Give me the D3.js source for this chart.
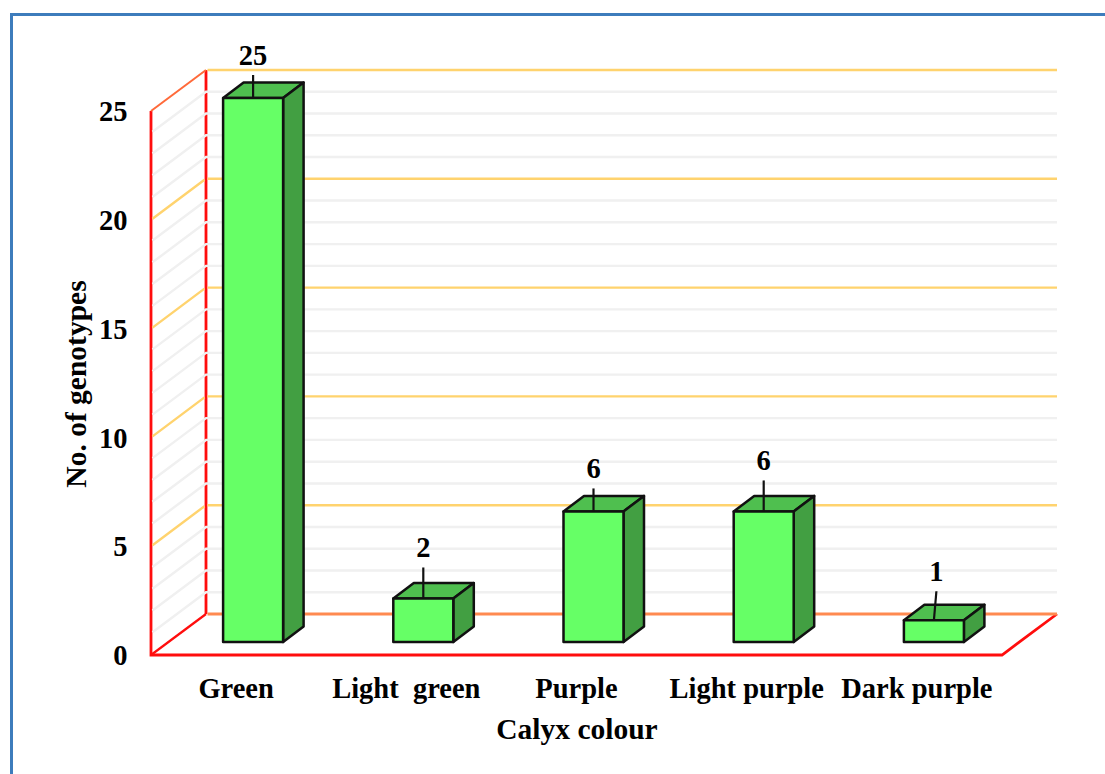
<!DOCTYPE html>
<html>
<head>
<meta charset="utf-8">
<script src="https://cdn.jsdelivr.net/npm/d3@7/dist/d3.min.js"></script>
<style>
html, body { margin: 0; padding: 0; background: #fff; overflow: hidden; }
svg { display: block; }
text { font-family: "Liberation Serif", serif; font-weight: bold; fill: #000; white-space: pre; }
</style>
</head>
<body>
<svg id="chart" width="1105" height="774"></svg>
<script>
// Calyx colour counts
const categories = ["Green", "Light  green", "Purple", "Light purple", "Dark purple"];
const genotypes = [25, 2, 6, 6, 1];
const yTicks = [0, 5, 10, 15, 20, 25];
const minorTicks = d3.range(0, 26);
const yLabel = "No. of genotypes";
const xLabel = "Calyx colour";

// Height of each value label's leader line above its bar, and its lean
const leaderLengths = [23, 31, 23, 31, 29];
const leaderLean = [0, 0, 0, 0, 2.5];

// Projection of the 3D box: floor depth offset of the back wall
const wallDepth = { dx: 55, dy: -41 };
const barDepth = { dx: 20.5, dy: -15.5 };

const svg = d3.select("#chart");

const x = d3.scaleBand().domain(categories).range([151, 1002]);
const y = d3.scaleLinear().domain([0, 25]).range([655, 111]);
const barBase = 642;
const barWidth = 60;
const barShift = 17;
const barHeight = v => y(0) - y(v);

const backY = v => y(v) + wallDepth.dy;
const xLeft = x.range()[0], xRight = x.range()[1];

// Outer frame
svg.append("path")
  .attr("d", "M11.5,774V14.5H1105")
  .attr("fill", "none").attr("stroke", "#3d7cbc").attr("stroke-width", 3);

// Left wall and floor outline
const red = "#ff0d0d";
svg.append("path")
  .attr("d", `M${xLeft},${backY(25) - wallDepth.dy}V${y(0)}H${xRight}L${xRight + wallDepth.dx},${backY(0)}`)
  .attr("fill", "none").attr("stroke", red).attr("stroke-width", 2.8);
svg.append("line")
  .attr("x1", xLeft + wallDepth.dx).attr("x2", xLeft + wallDepth.dx)
  .attr("y1", backY(25)).attr("y2", backY(0))
  .attr("stroke", red).attr("stroke-width", 2.8);
svg.append("line")
  .attr("x1", xLeft).attr("x2", xLeft + wallDepth.dx)
  .attr("y1", y(0)).attr("y2", backY(0))
  .attr("stroke", red).attr("stroke-width", 2.2);
svg.append("line")
  .attr("x1", xLeft).attr("x2", xLeft + wallDepth.dx)
  .attr("y1", y(25)).attr("y2", backY(25))
  .attr("stroke", "#ff6a3a").attr("stroke-width", 2);

// Minor gridlines across the side wall and back wall
const minor = svg.append("g").attr("fill", "none").attr("stroke", "#f0f0f0").attr("stroke-width", 2.4);
minor.selectAll("path")
  .data(minorTicks.filter(v => v % 5 !== 0))
  .join("path")
  .attr("d", v => `M${xLeft + 1.5},${y(v) - 1}L${xLeft + wallDepth.dx},${backY(v)}H${xRight + wallDepth.dx}`);

// Major gridlines, with the zero line running along the back of the floor
const major = svg.append("g").attr("fill", "none").attr("stroke-width", 2.4);
major.selectAll("path")
  .data(yTicks.filter(v => v > 0))
  .join("path")
  .attr("stroke", "#ffd36e")
  .attr("d", v => v === 25
    ? `M${xLeft + wallDepth.dx + 1.5},${backY(v)}H${xRight + wallDepth.dx}`
    : `M${xLeft + 1.5},${y(v) - 1}L${xLeft + wallDepth.dx - 1.5},${backY(v) + 1}M${xLeft + wallDepth.dx + 1.5},${backY(v)}H${xRight + wallDepth.dx}`);
svg.append("line")
  .attr("x1", xLeft + wallDepth.dx + 1.5).attr("x2", xRight + wallDepth.dx)
  .attr("y1", backY(0)).attr("y2", backY(0))
  .attr("stroke", "#ff8a50").attr("stroke-width", 2.8);

// Bars: top, side, then front face
const bars = svg.append("g").attr("stroke", "#111").attr("stroke-width", 2.5).attr("stroke-linejoin", "round")
  .selectAll("g")
  .data(categories.map((c, i) => ({ c, v: genotypes[i], i })))
  .join("g")
  .attr("transform", d => `translate(${x(d.c) + x.bandwidth() / 2 + barShift - barWidth / 2},${barBase})`);

bars.append("path").attr("fill", "#4fbf4f")
  .attr("d", d => {
    const h = -barHeight(d.v);
    return `M0,${h}l${barDepth.dx},${barDepth.dy}h${barWidth}l${-barDepth.dx},${-barDepth.dy}Z`;
  });
bars.append("path").attr("fill", "#429f42")
  .attr("d", d => {
    const h = -barHeight(d.v);
    return `M${barWidth},${h}l${barDepth.dx},${barDepth.dy}V${barDepth.dy}L${barWidth},0Z`;
  });
bars.append("rect").attr("fill", "#66ff66")
  .attr("width", barWidth)
  .attr("y", d => -barHeight(d.v))
  .attr("height", d => barHeight(d.v));

// Leader lines and value labels
bars.append("line")
  .attr("stroke-width", 2.2)
  .attr("x1", barWidth / 2).attr("y1", d => -barHeight(d.v))
  .attr("x2", d => barWidth / 2 + leaderLean[d.i])
  .attr("y2", d => -barHeight(d.v) - leaderLengths[d.i]);
bars.append("text")
  .attr("stroke", "none")
  .attr("font-size", 28.5)
  .attr("text-anchor", "middle")
  .attr("x", d => barWidth / 2 + leaderLean[d.i])
  .attr("y", d => -barHeight(d.v) - leaderLengths[d.i] - 10)
  .text(d => d.v);

// Axes
const yAxis = svg.append("g")
  .attr("transform", `translate(${xLeft - 23.5},0.5)`)
  .call(d3.axisLeft(y).tickValues(yTicks).tickSize(0).tickPadding(0));
const xAxis = svg.append("g")
  .attr("transform", `translate(0,${y(0) + 23})`)
  .call(d3.axisBottom(x).tickSize(0).tickPadding(0));
[yAxis, xAxis].forEach(a => {
  a.select(".domain").remove();
  a.selectAll("text")
    .attr("font-size", 28.5)
    .attr("font-family", "Liberation Serif")
    .attr("font-weight", "bold")
    .style("white-space", "pre");
});

svg.append("text")
  .attr("x", 577).attr("y", 739)
  .attr("font-size", 29.5).attr("text-anchor", "middle")
  .text(xLabel);
svg.append("text")
  .attr("transform", "translate(85.5,384) rotate(-90)")
  .attr("font-size", 29.5).attr("text-anchor", "middle")
  .text(yLabel);
</script>
</body>
</html>
